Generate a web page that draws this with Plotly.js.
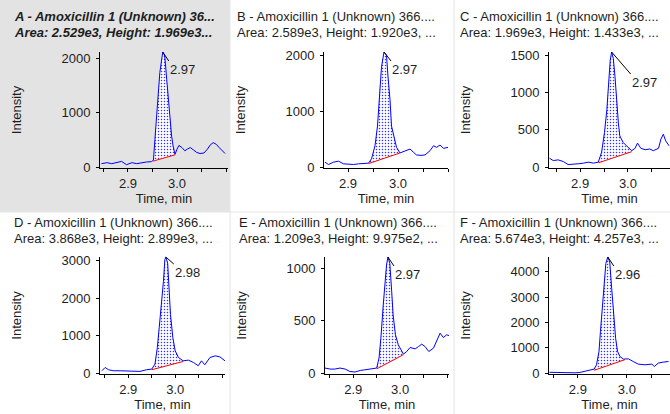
<!DOCTYPE html>
<html><head><meta charset="utf-8">
<script src="https://cdn.plot.ly/plotly-3.0.1.min.js"></script>
<style>html,body{margin:0;padding:0;background:#fff}#chart{width:670px;height:414px}</style>
</head><body><div id="chart"></div>
<script>
// ---------------- DATA ----------------
const panelIds = ['A', 'B', 'C', 'D', 'E', 'F'];
const titleLine1 = [
  'A - Amoxicillin 1 (Unknown) 36...',
  'B - Amoxicillin 1 (Unknown) 366....',
  'C - Amoxicillin 1 (Unknown) 366....',
  'D - Amoxicillin 1 (Unknown) 366....',
  'E - Amoxicillin 1 (Unknown) 366....',
  'F - Amoxicillin 1 (Unknown) 366....'
];
const titleLine2 = [
  'Area: 2.529e3, Height: 1.969e3...',
  'Area: 2.589e3, Height: 1.920e3, ...',
  'Area: 1.969e3, Height: 1.433e3, ...',
  'Area: 3.868e3, Height: 2.899e3, ...',
  'Area: 1.209e3, Height: 9.975e2, ...',
  'Area: 5.674e3, Height: 4.257e3, ...'
];
const peakRT = ['2.97', '2.97', '2.97', '2.98', '2.97', '2.96'];

const timeA = [2.846,2.857,2.867,2.877,2.887,2.897,2.908,2.918,2.927,2.938,2.948,2.952,2.955,2.959,2.962,2.965,2.971,2.975,2.979,2.982,2.986,2.989,2.992,2.996,3.000,3.004,3.010,3.016,3.021,3.027,3.033,3.040,3.047,3.055,3.062,3.068,3.074,3.080,3.086,3.092,3.098];
const intensityA = [63,81,63,81,105,44,81,63,81,94,100,129,511,1004,1434,1741,2120,2048,1618,1249,880,572,387,234,330,400,360,300,330,360,320,270,250,260,330,410,450,420,360,300,250];
const baselineTimeA = [2.951, 2.996];
const baselineIntensityA = [110, 225];

const timeB = [2.854,2.861,2.871,2.881,2.891,2.901,2.911,2.921,2.931,2.941,2.947,2.954,2.959,2.964,2.967,2.972,2.977,2.980,2.984,2.987,2.993,2.997,3.004,3.014,3.024,3.031,3.037,3.046,3.054,3.064,3.071,3.077,3.084,3.091,3.100];
const intensityB = [88,46,88,106,58,46,46,58,58,70,147,382,735,1502,1795,2060,2002,1618,1207,735,500,353,253,293,323,265,217,210,217,293,382,353,394,335,353];
const baselineTimeB = [2.941, 3.004];
const baselineIntensityB = [62, 253];

const timeC = [2.836,2.844,2.854,2.865,2.875,2.886,2.896,2.907,2.917,2.928,2.938,2.945,2.951,2.956,2.959,2.963,2.966,2.9695,2.973,2.976,2.980,2.983,2.990,2.997,3.008,3.015,3.020,3.027,3.036,3.046,3.053,3.064,3.069,3.074,3.079,3.086];
const intensityC = [119,87,97,74,34,34,44,53,66,53,66,199,464,772,1081,1434,1545,1457,1213,905,596,419,331,286,220,252,322,252,233,243,220,252,375,441,352,286];
const baselineTimeC = [2.938, 3.008];
const baselineIntensityC = [57, 207];

const timeD = [2.844,2.851,2.858,2.868,2.883,2.897,2.911,2.925,2.939,2.950,2.957,2.962,2.966,2.971,2.975,2.978,2.980,2.984,2.987,2.990,2.995,3.000,3.007,3.017,3.028,3.039,3.049,3.056,3.063,3.074,3.085,3.095,3.106];
const intensityD = [62,150,89,62,62,62,62,44,89,106,239,681,1212,1832,2451,3026,3100,2938,2274,1566,947,593,416,327,345,283,195,327,221,416,460,434,327];
const baselineTimeD = [2.950, 3.017];
const baselineIntensityD = [89, 310];

const timeE = [2.840,2.851,2.861,2.872,2.883,2.893,2.904,2.915,2.925,2.939,2.950,2.955,2.959,2.964,2.968,2.971,2.974,2.978,2.982,2.985,2.990,2.996,3.007,3.014,3.021,3.032,3.039,3.046,3.053,3.061,3.071,3.078,3.085,3.092,3.099,3.104];
const intensityE = [48,38,38,48,38,15,10,25,31,38,48,143,333,650,872,1031,1108,1048,777,555,365,270,181,206,244,231,253,276,253,206,238,317,381,339,365,358];
const baselineTimeE = [2.950, 3.007];
const baselineIntensityE = [40, 176];

const timeF = [2.842,2.853,2.863,2.874,2.884,2.894,2.904,2.914,2.925,2.933,2.938,2.943,2.946,2.950,2.953,2.957,2.961,2.965,2.969,2.973,2.977,2.981,2.986,2.993,3.003,3.013,3.023,3.037,3.051,3.056,3.064,3.074,3.085];
const intensityF = [30,24,24,10,10,10,24,63,102,157,327,850,1638,2689,3606,4331,4590,4394,3346,2295,1378,850,654,551,563,457,354,327,354,260,394,433,457];
const baselineTimeF = [2.933, 2.996];
const baselineIntensityF = [110, 530];

const xTickVals = [2.85, 2.9, 2.95, 3.0, 3.05, 3.1];
const xTickText = ['', '2.9', '', '3.0', '', ''];
const yTickSteps = [1000, 1000, 500, 1000, 500, 1000];

// ---------------- LAYOUT GEOMETRY ----------------
const W = 670, H = 414;
const times = [timeA, timeB, timeC, timeD, timeE, timeF];
const intens = [intensityA, intensityB, intensityC, intensityD, intensityE, intensityF];
const bTimes = [baselineTimeA, baselineTimeB, baselineTimeC, baselineTimeD, baselineTimeE, baselineTimeF];
const bInts = [baselineIntensityA, baselineIntensityB, baselineIntensityC, baselineIntensityD, baselineIntensityE, baselineIntensityF];

const geo = [
  {px0: 100, px1: 228, py0: 52, py1: 168, xr: [2.843, 3.104], tx: 12, ty: 17, ax: 6, ay: 9},
  {px0: 324, px1: 448, py0: 52, py1: 168, xr: [2.852, 3.100], tx: 235, ty: 17, ax: 7, ay: 9},
  {px0: 549, px1: 670, py0: 52, py1: 168, xr: [2.835, 3.088], tx: 458, ty: 17, ax: 19, ay: 22},
  {px0: 100, px1: 225, py0: 257, py1: 374, xr: [2.840, 3.106], tx: 12, ty: 223, ax: 8, ay: 7},
  {px0: 325, px1: 449, py0: 257, py1: 374, xr: [2.840, 3.104], tx: 237, ty: 223, ax: 6, ay: 9},
  {px0: 549, px1: 670, py0: 257, py1: 374, xr: [2.841, 3.088], tx: 458, ty: 223, ax: 6, ay: 9}
];

const FONT = 'Arial, "Liberation Sans", sans-serif';
const TXT = '#1e1e1e';
const traces = [];
const annotations = [];
const layout = {
  width: W, height: H,
  margin: {l: 0, r: 0, t: 0, b: 0},
  paper_bgcolor: '#ffffff',
  plot_bgcolor: 'rgba(0,0,0,0)',
  showlegend: false,
  font: {family: FONT, size: 13, color: TXT},
  shapes: [
    {type: 'rect', xref: 'paper', yref: 'paper', x0: 0, x1: 230 / W, y0: 1 - 212 / H, y1: 1,
     fillcolor: '#e3e3e3', line: {width: 0}, layer: 'below'},
    {type: 'line', xref: 'paper', yref: 'paper', x0: 230 / W, x1: 230 / W, y0: 0, y1: 1, line: {color: '#e4e4e4', width: 1}},
    {type: 'line', xref: 'paper', yref: 'paper', x0: 454 / W, x1: 454 / W, y0: 0, y1: 1, line: {color: '#e4e4e4', width: 1}},
    {type: 'line', xref: 'paper', yref: 'paper', x0: 0, x1: 1, y0: 1 - 212 / H, y1: 1 - 212 / H, line: {color: '#e4e4e4', width: 1}}
  ],
  annotations: annotations
};

panelIds.forEach((id, i) => {
  const g = geo[i];
  const s = i === 0 ? '' : String(i + 1);
  const xa = 'x' + s, ya = 'y' + s;
  const t = times[i], v = intens[i], bt = bTimes[i], bi = bInts[i];
  const peak = Math.max(...v);
  const pk = v.indexOf(peak);

  // dotted peak area (curve between baseline start/end, closed along the baseline)
  const fx = [bt[0]], fy = [bi[0]];
  t.forEach((tt, k) => { if (tt > bt[0] && tt < bt[1]) { fx.push(tt); fy.push(v[k]); } });
  fx.push(bt[1]); fy.push(bi[1]);
  traces.push({
    type: 'scatter', mode: 'lines', x: fx, y: fy, xaxis: xa, yaxis: ya,
    fill: 'toself', fillcolor: '#ffffff',
    fillpattern: {shape: '.', fgcolor: '#3030ff', bgcolor: '#ffffff', size: 3, solidity: 0.2},
    line: {width: 0, color: 'rgba(0,0,0,0)'}, hoverinfo: 'skip'
  });
  traces.push({
    type: 'scatter', mode: 'lines', x: t, y: v, xaxis: xa, yaxis: ya,
    line: {color: '#0000ff', width: 1}
  });
  traces.push({
    type: 'scatter', mode: 'lines', x: bt, y: bi, xaxis: xa, yaxis: ya,
    line: {color: '#ff0000', width: 1}
  });

  const axCommon = {
    showgrid: false, zeroline: false, showline: true, linecolor: '#000', linewidth: 1,
    ticks: 'outside', ticklen: 3, tickwidth: 1, tickcolor: '#000',
    tickfont: {family: FONT, size: 13, color: TXT}, automargin: false, fixedrange: true
  };
  layout['xaxis' + s] = Object.assign({}, axCommon, {
    domain: [g.px0 / W, g.px1 / W], anchor: ya, range: g.xr,
    tickmode: 'array', tickvals: xTickVals, ticktext: xTickText,
    title: {text: 'Time, min', font: {family: FONT, size: 13, color: TXT}, standoff: 2}
  });
  layout['yaxis' + s] = Object.assign({}, axCommon, {
    domain: [1 - g.py1 / H, 1 - g.py0 / H], anchor: xa,
    range: [-peak * 0.008, peak], tick0: 0, dtick: yTickSteps[i], ticklabelstandoff: 3,
    title: {text: 'Intensity', font: {family: FONT, size: 13, color: TXT}, standoff: 36}
  });

  const bold = i === 0;
  annotations.push({
    xref: 'paper', yref: 'paper', x: g.tx / W, y: 1 - g.ty / H, xanchor: 'left', yanchor: 'middle',
    text: bold ? '<b><i>' + titleLine1[i] + '</i></b>' : titleLine1[i], showarrow: false,
    font: {family: FONT, size: 13, color: TXT}
  });
  annotations.push({
    xref: 'paper', yref: 'paper', x: g.tx / W, y: 1 - (g.ty + 15) / H, xanchor: 'left', yanchor: 'middle',
    text: bold ? '<b><i>' + titleLine2[i] + '</i></b>' : titleLine2[i], showarrow: false,
    font: {family: FONT, size: 13, color: TXT}
  });
  annotations.push({
    xref: xa, yref: ya, x: t[pk], y: peak, text: peakRT[i],
    showarrow: true, arrowhead: 0, arrowwidth: 1, arrowcolor: '#000', standoff: 0,
    ax: g.ax, ay: g.ay, xanchor: 'left', yanchor: 'top', borderpad: 0,
    font: {family: FONT, size: 13, color: TXT}
  });
});

Plotly.newPlot('chart', traces, layout, {staticPlot: true, displayModeBar: false});
</script>
</body></html>
